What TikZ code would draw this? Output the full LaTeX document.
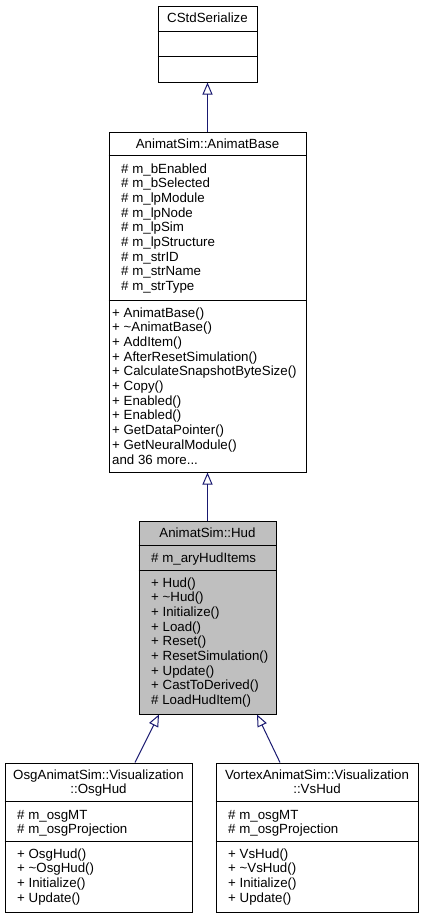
\documentclass[tikz,border=0pt]{standalone}
\usepackage{fontspec}
\setmainfont{Liberation Sans}
\usetikzlibrary{arrows.meta}
\definecolor{edgeblue}{HTML}{191970}
\definecolor{hudgray}{HTML}{BFBFBF}
\newcommand{\andmore}{and 36 more...}
\tikzset{
	classbox/.style={draw=black, line width=1pt, rectangle, inner sep=0pt},
	sepline/.style={draw=black, line width=1pt},
	member/.style={anchor=base west, inner sep=0pt, font=\fontsize{13.3}{14.7}\selectfont},
	title/.style={anchor=base, inner sep=0pt, font=\fontsize{13.3}{14.7}\selectfont},
	inherit/.style={draw=edgeblue, line width=1pt, -{Triangle[open, length=12pt, width=10pt]}},
}
\begin{document}
\begin{tikzpicture}[x=1pt, y=-1pt]
		\useasboundingbox (0,0) rectangle (424,919);
		
		% CStdSerialize
		\node[classbox, minimum width=99pt, minimum height=76pt] (ser) at (207.5,44) {};
		\draw[sepline] ([yshift=-26pt]ser.north west) -- ([yshift=-26pt]ser.north east);
		\draw[sepline] ([yshift=-51pt]ser.north west) -- ([yshift=-51pt]ser.north east);
		\node[title] (ser-t) at (207.5,22) {CStdSerialize};
		
		% AnimatSim::AnimatBase
		\node[classbox, minimum width=197pt, minimum height=340pt] (base) at (207.5,302) {};
		\draw[sepline] ([yshift=-24pt]base.north west) -- ([yshift=-24pt]base.north east);
		\draw[sepline] ([yshift=-169pt]base.north west) -- ([yshift=-169pt]base.north east);
		\node[title] (base-t) at (207.5,148) {AnimatSim::AnimatBase};
		\foreach \m [count=\i] in {\# m\_bEnabled, \# m\_bSelected, \# m\_lpModule, \# m\_lpNode,
			\# m\_lpSim, \# m\_lpStructure, \# m\_strID, \# m\_strName, \# m\_strType} {
			\node[member] (base-a\i) at (121, {158.3+\i*14.7}) {\m};
		}
		\foreach \m [count=\i] in {+ AnimatBase(), + \textasciitilde AnimatBase(), + AddItem(),
			+ AfterResetSimulation(), + CalculateSnapshotByteSize(), + Copy(), + Enabled(),
			+ Enabled(), + GetDataPointer(), + GetNeuralModule(), \andmore} {
			\node[member] (base-m\i) at (112, {302.3+\i*14.7}) {\m};
		}
		
		% AnimatSim::Hud
		\node[classbox, fill=hudgray, minimum width=137pt, minimum height=193pt] (hud) at (207.5,617.5) {};
		\draw[sepline] ([yshift=-25pt]hud.north west) -- ([yshift=-25pt]hud.north east);
		\draw[sepline] ([yshift=-50pt]hud.north west) -- ([yshift=-50pt]hud.north east);
		\node[title] (hud-t) at (207.5,537) {AnimatSim::Hud};
		\node[member] (hud-a1) at (151,562) {\# m\_aryHudItems};
		\foreach \m [count=\i] in {+ Hud(), + \textasciitilde Hud(), + Initialize(), + Load(), + Reset(),
			+ ResetSimulation(), + Update(), + CastToDerived(), \# LoadHudItem()} {
			\node[member] (hud-m\i) at (151, {572.3+\i*14.7}) {\m};
		}
		
		% OsgAnimatSim::Visualization::OsgHud
		\node[classbox, minimum width=187pt, minimum height=149pt] (osg) at (98.5,837.5) {};
		\draw[sepline] ([yshift=-39pt]osg.north west) -- ([yshift=-39pt]osg.north east);
		\draw[sepline] ([yshift=-79pt]osg.north west) -- ([yshift=-79pt]osg.north east);
		\node[title] (osg-t1) at (98.5,779) {OsgAnimatSim::Visualization};
		\node[title] (osg-t2) at (98.5,793.5) {::OsgHud};
		\node[member] (osg-a1) at (17,819) {\# m\_osgMT};
		\node[member] (osg-a2) at (17,833.7) {\# m\_osgProjection};
		\foreach \m [count=\i] in {+ OsgHud(), + \textasciitilde OsgHud(), + Initialize(), + Update()} {
			\node[member] (osg-m\i) at (17, {843.3+\i*14.7}) {\m};
		}
		
		% VortexAnimatSim::Visualization::VsHud
		\node[classbox, minimum width=202pt, minimum height=149pt] (vs) at (317,837.5) {};
		\draw[sepline] ([yshift=-39pt]vs.north west) -- ([yshift=-39pt]vs.north east);
		\draw[sepline] ([yshift=-79pt]vs.north west) -- ([yshift=-79pt]vs.north east);
		\node[title] (vs-t1) at (317,779) {VortexAnimatSim::Visualization};
		\node[title] (vs-t2) at (317,793.5) {::VsHud};
		\node[member] (vs-a1) at (228,819) {\# m\_osgMT};
		\node[member] (vs-a2) at (228,833.7) {\# m\_osgProjection};
		\foreach \m [count=\i] in {+ VsHud(), + \textasciitilde VsHud(), + Initialize(), + Update()} {
			\node[member] (vs-m\i) at (228, {843.3+\i*14.7}) {\m};
		}
		
		% Inheritance arrows
		\draw[inherit] (base.north) -- (ser.south);
		\draw[inherit] (hud.north) -- (base.south);
		\draw[inherit] ([xshift=36.5pt]osg.north) -- ([xshift=-48.5pt]hud.south);
		\draw[inherit] ([xshift=-37pt]vs.north) -- ([xshift=49.5pt]hud.south);
	\end{tikzpicture}
\end{document}
